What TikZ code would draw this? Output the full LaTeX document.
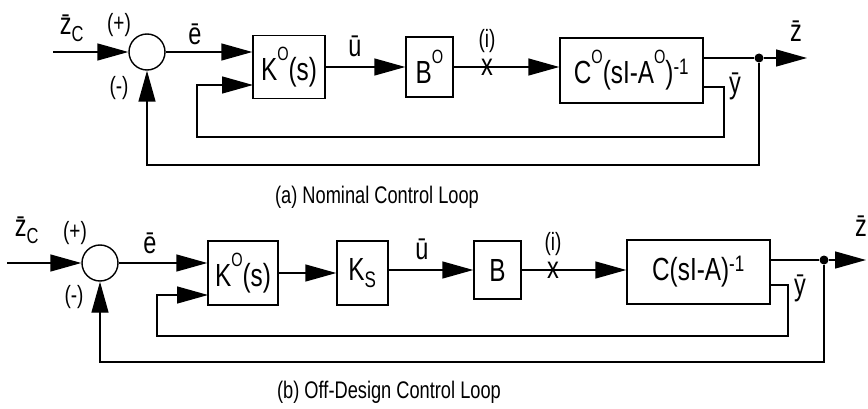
\documentclass[tikz,border=0pt]{standalone}
\usepackage{fontspec}
\setmainfont{Liberation Sans}[FakeStretch=0.76]
\usepackage{tikz}
\usetikzlibrary{arrows.meta, positioning}

\newcommand{\supO}{\raisebox{.62em}{\scalebox{0.6}{O}}}

\tikzset{
  block/.style={draw, line width=1.4pt, inner sep=0pt, font=\fontsize{32}{34}\selectfont},
  sumpt/.style={draw, circle, line width=1.4pt, minimum size=36pt, inner sep=0pt},
  tap/.style={circle, fill, inner sep=0pt, minimum size=9pt},
  wire/.style={line width=1.4pt},
  sig/.style={line width=1.4pt, -{Triangle[length=31pt,width=17pt]}},
  lbl/.style={font=\fontsize{31}{33}\selectfont, inner sep=0pt},
  sgn/.style={font=\fontsize{25}{27}\selectfont, inner sep=0pt},
  caption/.style={font=\fontsize{24}{26}\selectfont, inner sep=0pt}
}

\begin{document}
\begin{tikzpicture}[x=1pt, y=-1pt]
  \useasboundingbox (0,0) rectangle (868,409);

  % (a) Nominal loop: blocks
  \node[sumpt] (sa) at (147,52) {};
  \node[block, minimum width=72pt, minimum height=63pt] (ka) at (289,67) {K\supO(s)};
  \node[block, minimum width=47pt, minimum height=60pt] (ba) at (429.5,67) {B\supO};
  \node[block, minimum width=143pt, minimum height=65pt] (ca) at (631.5,70.5) {C\supO(sI-A\supO)\textsuperscript{-1}};
  \node[lbl] (xa) at (487,67) {x};
  \node[tap] (da) at (759,58) {};

  % (a) labels
  \node[lbl] (zca) at (72,28) {\={z}\textsubscript{C}};
  \node[sgn] (pa) at (119,25) {(+)};
  \node[sgn] (ma) at (119,88) {(-)};
  \node[lbl] (ea) at (195,34) {\={e}};
  \node[lbl] (ua) at (355,46) {\={u}};
  \node[sgn] (ia) at (487,41) {(i)};
  \node[lbl] (za) at (796,31) {\={z}};
  \node[lbl] (ya) at (735,86) {\={y}};

  % (a) signal path
  \coordinate (ina) at (53,52);
  \coordinate (outa) at (807,58);
  \coordinate (ta) at (724,87);
  \coordinate (la) at (197,137);
  \coordinate (kina) at (253,85);
  \coordinate (oa) at (147,165);
  \draw[sig] (ina) -- (sa);
  \draw[sig] (sa) -- (sa -| ka.west);
  \draw[sig] (ka) -- (ba);
  \draw[wire] (ba) -- (xa.center);
  \draw[sig] (xa.center) -- (xa.center -| ca.west);
  \draw[wire] (ca.east |- da) -- (da);
  \draw[sig] (da) -- (outa);
  \draw[sig] (ca.east |- ta) -- (ta) |- (la) |- (kina);
  \draw[sig] (da) |- (oa) -- (sa);

  \node[caption] (capa) at (377,197) {(a) Nominal Control Loop};

  % (b) Off-design loop: blocks
  \node[sumpt] (sb) at (100,263) {};
  \node[block, minimum width=70pt, minimum height=64pt] (kb) at (243,273) {K\supO(s)};
  \node[block, minimum width=51pt, minimum height=64pt] (ksb) at (362.5,273) {K\textsubscript{S}};
  \node[block, minimum width=47pt, minimum height=58pt] (bb) at (497.5,270) {B};
  \node[block, minimum width=143pt, minimum height=64pt] (cb) at (698.5,272) {C(sI-A)\textsuperscript{-1}};
  \node[lbl] (xb) at (553,270) {x};
  \node[tap] (db) at (824,260) {};

  % (b) labels
  \node[lbl] (zcb) at (27,230) {\={z}\textsubscript{C}};
  \node[sgn] (pb) at (75,233) {(+)};
  \node[sgn] (mb) at (74,297) {(-)};
  \node[lbl] (eb) at (150,243) {\={e}};
  \node[lbl] (ub) at (422,249) {\={u}};
  \node[sgn] (ib) at (553,244) {(i)};
  \node[lbl] (zb) at (861,226) {\={z}};
  \node[lbl] (yb) at (800,288) {\={y}};

  % (b) signal path
  \coordinate (inb) at (7,263);
  \coordinate (outb) at (866,260);
  \coordinate (tb) at (788,285);
  \coordinate (lb) at (157,336);
  \coordinate (kinb) at (208,295);
  \coordinate (ob) at (100,362);
  \draw[sig] (inb) -- (sb);
  \draw[sig] (sb) -- (sb -| kb.west);
  \draw[sig] (kb) -- (ksb);
  \draw[sig] (ksb.east |- bb) -- (bb);
  \draw[wire] (bb) -- (xb.center);
  \draw[sig] (xb.center) -- (xb.center -| cb.west);
  \draw[wire] (cb.east |- db) -- (db);
  \draw[sig] (db) -- (outb);
  \draw[sig] (cb.east |- tb) -- (tb) |- (lb) |- (kinb);
  \draw[sig] (db) |- (ob) -- (sb);

  \node[caption] (capb) at (389,392) {(b) Off-Design Control Loop};

\end{tikzpicture}
\end{document}
